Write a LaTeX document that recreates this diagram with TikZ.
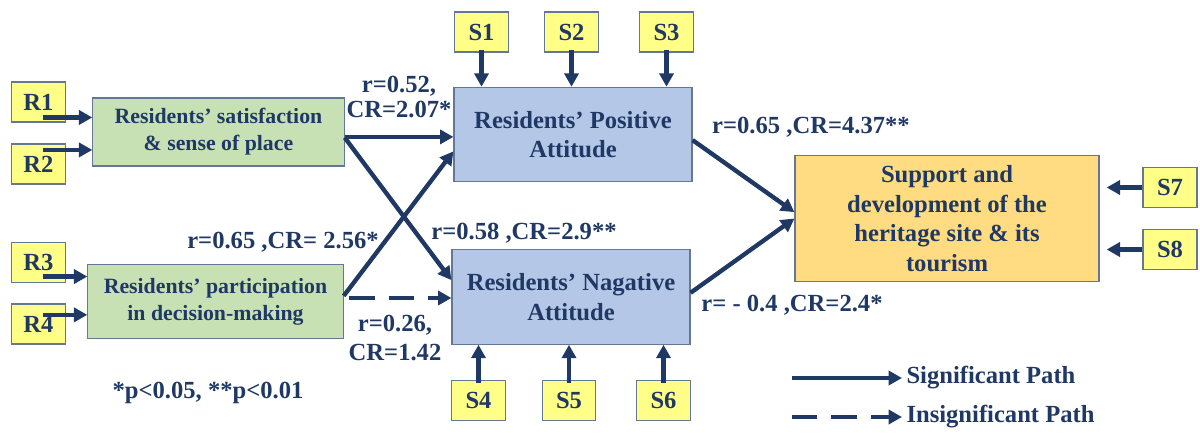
\documentclass[tikz,border=0pt]{standalone}
\usepackage{fontspec}
\setmainfont{Liberation Serif}
\usepackage{tikz}
\usetikzlibrary{arrows.meta,calc}
\definecolor{navy}{RGB}{31,56,100}
\definecolor{boxline}{RGB}{100,120,150}
\definecolor{indfill}{RGB}{255,255,136}
\definecolor{greenfill}{RGB}{199,225,180}
\definecolor{bluefill}{RGB}{180,199,231}
\definecolor{orangefill}{RGB}{255,219,130}
\newcommand{\lbl}{\fontsize{17.5}{18}\selectfont\bfseries}

\begin{document}
\begin{tikzpicture}[x=0.025cm,y=-0.025cm,>={Triangle[length=9.5pt,width=10pt]},font=\lbl,text=navy]
\tikzstyle{box}=[draw=boxline,line width=0.8pt,align=center,inner sep=0pt]
\tikzstyle{indic}=[box,fill=indfill,minimum width=1.33cm,minimum height=1.0cm]
\tikzstyle{cause}=[box,fill=greenfill,font=\fontsize{15.5}{19}\selectfont\bfseries]
\tikzstyle{attitude}=[box,fill=bluefill,minimum width=5.95cm,minimum height=2.36cm,font=\fontsize{17.5}{21}\selectfont\bfseries]
\tikzstyle{outcome}=[box,fill=orangefill,minimum width=7.6cm,minimum height=3.13cm,font=\fontsize{17.5}{21}\selectfont\bfseries]
\tikzstyle{sig}=[->,draw=navy,line width=3.1pt]
\tikzstyle{insig}=[sig,dash pattern=on 18pt off 10pt]
\useasboundingbox (0,0) rectangle (1200,439);
% indicators of the two antecedents
\node[indic] (r1) at (38.5,102) {R1};
\node[indic] (r2) at (38.5,164) {R2};
\node[indic] (r3) at (38.5,262.5) {R3};
\node[indic] (r4) at (38.5,324) {R4};
% constructs
\node[cause,minimum width=6.28cm,minimum height=1.7cm] (sat) at (218.5,132) {Residents' satisfaction\\\& sense of place};
\node[cause,minimum width=6.38cm,minimum height=1.83cm] (part) at (215.5,301.5) {Residents' participation\\in decision-making};
\node[attitude] (pos) at (573,134.5) {Residents' Positive\\Attitude};
\node[attitude] (neg) at (571,297) {Residents' Nagative\\Attitude};
\node[outcome] (sup) at (947,218.5) {Support and\\development of the\\heritage site \& its\\tourism};
% indicators of the attitudes and the outcome
\node[indic] (s1) at (481.5,32) {S1};
\node[indic] (s2) at (571.5,32) {S2};
\node[indic] (s3) at (666.5,32) {S3};
\node[indic] (s4) at (478.5,400.5) {S4};
\node[indic] (s5) at (569,400.5) {S5};
\node[indic] (s6) at (663.5,400.5) {S6};
\node[indic,minimum width=1.35cm,minimum height=0.98cm] (s7) at (1170,187.5) {S7};
\node[indic,minimum width=1.35cm,minimum height=0.98cm] (s8) at (1170,249.5) {S8};
\draw[sig] ([xshift=3pt,yshift=-11pt]r1.center) -- ([yshift=-11pt]r1.center -| sat.west);
\draw[sig] ([xshift=3pt,yshift=10pt]r2.center) -- ([yshift=10pt]r2.center -| sat.west);
\draw[sig] ([xshift=3pt,yshift=-10pt]r3.center) -- ([yshift=-10pt]r3.center -| part.west);
\draw[sig] ([xshift=3pt,yshift=6.5pt]r4.center) -- ([yshift=6.5pt]r4.center -| part.west);
\draw[sig] ([yshift=2pt]s1.south) -- (s1.south |- pos.north);
\draw[sig] ([yshift=2pt]s2.south) -- (s2.south |- pos.north);
\draw[sig] ([yshift=2pt]s3.south) -- (s3.south |- pos.north);
\draw[sig] ([yshift=-2pt]s4.north) -- (s4.north |- neg.south);
\draw[sig] ([yshift=-2pt]s5.north) -- (s5.north |- neg.south);
\draw[sig] ([yshift=-2pt]s6.north) -- (s6.north |- neg.south);
\draw[sig,shorten >=5pt] (s7.west) -- (s7.west -| sup.east);
\draw[sig,shorten >=5pt] (s8.west) -- (s8.west -| sup.east);
% structural paths
\draw[sig] ([yshift=-3.5pt]sat.east) -- ([yshift=-3.5pt]sat.east -| pos.west);
\draw[sig] ([yshift=-4pt]sat.east) -- ([yshift=12pt]neg.west);
\draw[sig] ([yshift=4pt]part.east) -- ([yshift=-12pt]pos.west);
\draw[insig] ([xshift=4pt,yshift=2.5pt]part.east) -- ([yshift=2.5pt]part.east -| neg.west);
\draw[sig] ([yshift=-4pt]pos.east) -- ([yshift=4.5pt]sup.west);
\draw[sig] ([yshift=3pt]neg.east) -- (sup.west);
\node[align=center] (lab1) at (399,97) {r=0.52,\\CR=2.07*};
\node (lab2) at (283,242) {r=0.65 ,CR= 2.56*};
\node (lab3) at (524,233) {r=0.58 ,CR=2.9**};
\node[align=center,font=\fontsize{17.5}{21}\selectfont\bfseries] (lab4) at (395,338) {r=0.26,\\CR=1.42};
\node (lab5) at (811,127) {r=0.65 ,CR=4.37**};
\node (lab6) at (792,305) {r= - 0.4 ,CR=2.4*};
\node (note) at (208,393) {*p<0.05, **p<0.01};
% legend
\coordinate (sigfrom) at (792,378);
\node[anchor=west,inner sep=3pt] (sigtxt) at (902,378) {Significant Path};
\draw[sig] (sigfrom) -- (sigtxt.west);
\coordinate (insigfrom) at (792,417);
\node[anchor=west,inner sep=3pt] (insigtxt) at (902,417) {Insignificant Path};
\draw[insig] (insigfrom) -- (insigtxt.west);
\end{tikzpicture}
\end{document}
